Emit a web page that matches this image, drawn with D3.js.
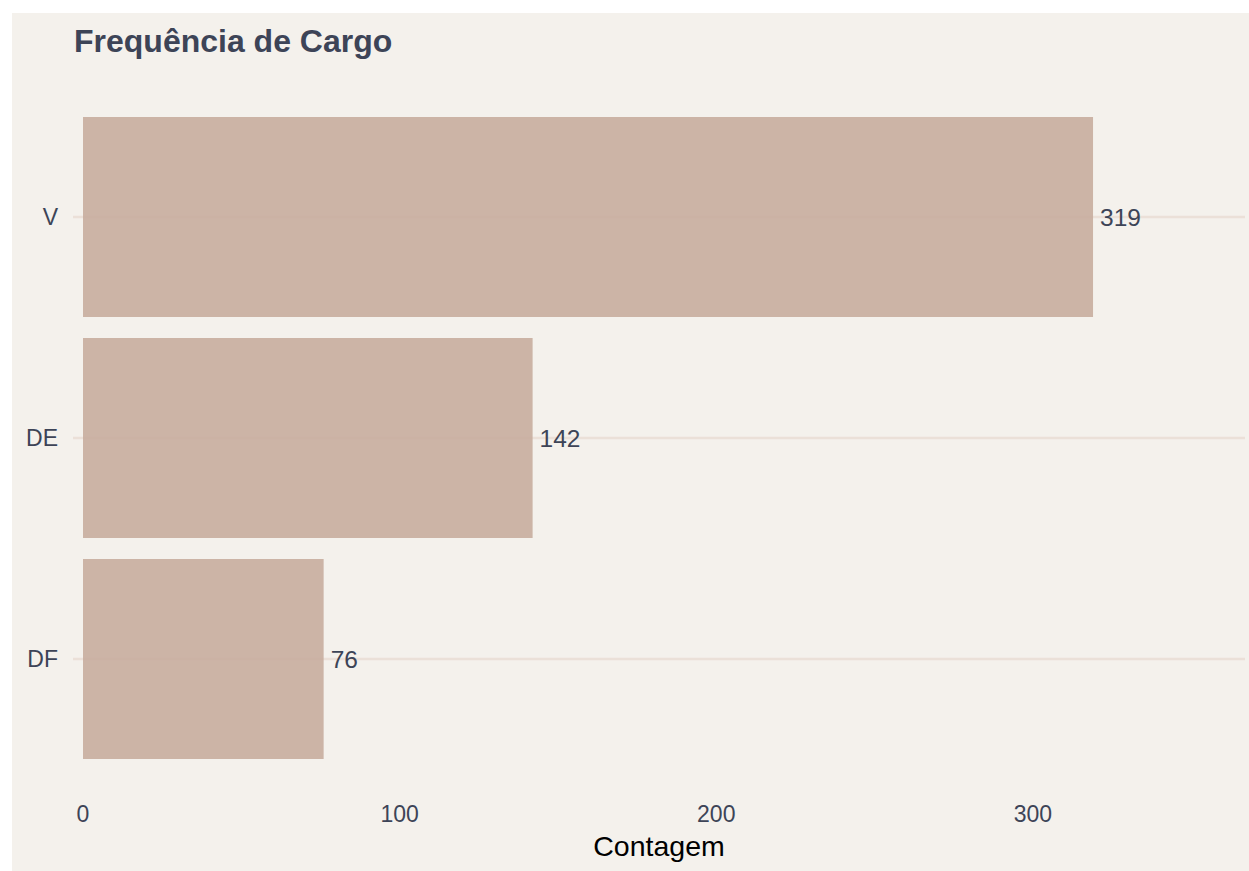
<!DOCTYPE html>
<html><head><meta charset="utf-8">
<script src="https://cdn.jsdelivr.net/npm/d3@7"></script>
<style>body{margin:0;background:#fff}svg{display:block}</style>
</head><body>
<svg id="c" width="1249" height="871"></svg>
<script>
const categories = ["V", "DE", "DF"];
const counts = [319, 142, 76];
const xTicks = [0, 100, 200, 300];
const titleText = "Frequência de Cargo";
const xTitle = "Contagem";

const W = 1249, H = 871;
const svg = d3.select("#c");
const font = "'Liberation Sans', Arial, sans-serif";
const txt = "#3d4457";

svg.append("rect").attr("x", 12).attr("y", 13).attr("width", W - 12).attr("height", H - 13).attr("fill", "#f4f1ec");

const x = d3.scaleLinear().domain([0, 367]).range([83, 1245]);
const y = d3.scaleBand().domain(categories).range([106.5, 769.5]).paddingInner(0.095).paddingOuter(0.0475);

// gridlines (incl. tick marks)
svg.append("g").selectAll("line").data(categories).join("line")
  .attr("x1", 73).attr("x2", 1245)
  .attr("y1", d => y(d) + y.bandwidth() / 2).attr("y2", d => y(d) + y.bandwidth() / 2)
  .attr("stroke", "#ebe0d8").attr("stroke-width", 2.5);

// bars
svg.append("g").selectAll("rect").data(categories).join("rect")
  .attr("x", x(0)).attr("y", d => y(d))
  .attr("width", (d, i) => x(counts[i]) - x(0)).attr("height", y.bandwidth())
  .attr("fill", "#c8ad9f").attr("fill-opacity", 0.9);

// value labels
svg.append("g").selectAll("text").data(categories).join("text")
  .attr("x", (d, i) => x(counts[i]) + 7).attr("y", d => y(d) + y.bandwidth() / 2 + 8.5)
  .attr("font-family", font).attr("font-size", 24.5).attr("fill", txt)
  .text((d, i) => counts[i]);

// y labels
svg.append("g").selectAll("text").data(categories).join("text")
  .attr("x", 58).attr("y", d => y(d) + y.bandwidth() / 2 + 8)
  .attr("text-anchor", "end")
  .attr("font-family", font).attr("font-size", 23).attr("fill", txt)
  .text(d => d);

// x tick labels
svg.append("g").selectAll("text").data(xTicks).join("text")
  .attr("x", d => x(d)).attr("y", 822)
  .attr("text-anchor", "middle")
  .attr("font-family", font).attr("font-size", 23).attr("fill", txt)
  .text(d => d);

// x title
svg.append("text").attr("x", 659).attr("y", 856).attr("text-anchor", "middle")
  .attr("font-family", font).attr("font-size", 28.5).attr("fill", "#000").text(xTitle);

// title
svg.append("text").attr("x", 74).attr("y", 52)
  .attr("font-family", font).attr("font-size", 32).attr("font-weight", "bold").attr("fill", "#3d4457").text(titleText);
</script>
</body></html>
